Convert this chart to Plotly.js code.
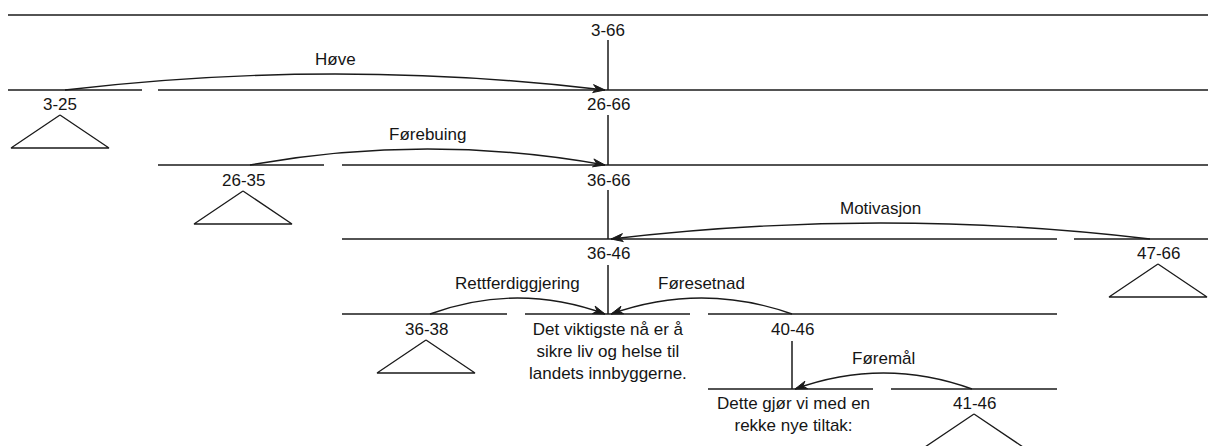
<!DOCTYPE html>
<html>
<head>
<meta charset="utf-8">
<script src="https://cdn.plot.ly/plotly-3.0.1.min.js"></script>
<style>html,body{margin:0;padding:0;background:#fff;}#chart{width:1208px;height:446px;}</style>
</head>
<body>
<div id="chart"></div>
<script>
// ---- content ----
const spanLabels = ['3-66', '26-66', '36-66', '36-46', '3-25', '26-35', '47-66', '36-38', '40-46', '41-46'];
const leafSpans = ['3-25', '26-35', '47-66', '36-38', '41-46'];
const relationNames = ['Høve', 'Førebuing', 'Motivasjon', 'Rettferdiggjering', 'Føresetnad', 'Føremål'];
const eduTexts = [
  'Det viktigste nå er å<br>sikre liv og helse til<br>landets innbyggerne.',
  'Dette gjør vi med en<br>rekke nye tiltak:'
];

// ---- layout of the diagram (pixel grid) ----
const spanX = [608, 608, 608, 608, 60, 243, 1158, 426, 792, 974];
const spanY = [30, 104, 180, 253, 104, 180, 253, 329, 329, 403];
const eduX = [608, 793];
const eduY = [351, 414];

const segY  = [15, 90, 90, 165, 165, 239, 239, 314, 314, 314, 389, 389];
const segX0 = [8, 8, 158, 158, 342, 342, 1074, 342, 525, 708, 708, 891];
const segX1 = [1208, 142, 1208, 324, 1208, 1057, 1208, 507, 690, 1057, 873, 1057];

const vertX  = [608, 608, 608, 608, 792];
const vertY0 = [40, 115, 190, 265, 341];
const vertY1 = [90, 165, 239, 314, 389];

const relFromX = [65, 250, 1150, 430, 792, 972];
const relToX   = [605, 605, 611, 605, 611, 795];
const relLineY = [90, 165, 239, 314, 314, 389];

const triH = 33, triHalf = 49, triGap = 11, arcRise = 32;
const ink = '#1a1a1a';
const font = {family: 'Liberation Sans, Arial, sans-serif', size: 17, color: '#151515'};

// horizontal span lines
const hx = [], hy = [];
segY.forEach((y, i) => { hx.push(segX0[i], segX1[i], null); hy.push(y, y, null); });
// vertical nucleus lines
const vx = [], vy = [];
vertX.forEach((x, i) => { vx.push(x, x, null); vy.push(vertY0[i], vertY1[i], null); });
// triangles under leaf spans
const tx = [], ty = [];
leafSpans.forEach(lbl => {
  const k = spanLabels.indexOf(lbl);
  const ax = spanX[k], ay = spanY[k] + triGap;
  tx.push(ax, ax - triHalf, ax + triHalf, ax, null);
  ty.push(ay, ay + triH, ay + triH, ay, null);
});

const lineStyle = {color: ink, width: 1.5};
const data = [
  {x: hx, y: hy, mode: 'lines', line: lineStyle, hoverinfo: 'skip'},
  {x: vx, y: vy, mode: 'lines', line: lineStyle, hoverinfo: 'skip'},
  {x: tx, y: ty, mode: 'lines', line: {color: ink, width: 1.3}, hoverinfo: 'skip'}
];

const shapes = [];
relationNames.forEach((r, i) => {
  const x0 = relFromX[i], x1 = relToX[i], y = relLineY[i];
  const mx = (x0 + x1) / 2, cy = y - arcRise;
  shapes.push({type: 'path', xref: 'x', yref: 'y',
    path: `M ${x0},${y} Q ${mx},${cy} ${x1},${y}`,
    line: {color: ink, width: 1.4}});
  // arrowhead at nucleus end, along the tangent (control -> end)
  let dx = x1 - mx, dy = y - cy;
  const len = Math.hypot(dx, dy); dx /= len; dy /= len;
  const L = 12, W = 4;
  const bx = x1 - L * dx, by = y - L * dy;
  const nx = x1 - 0.7 * L * dx, ny = y - 0.7 * L * dy;
  const px = -dy, py = dx;
  shapes.push({type: 'path', xref: 'x', yref: 'y',
    path: `M ${x1},${y} L ${bx + W * px},${by + W * py} L ${nx},${ny} L ${bx - W * px},${by - W * py} Z`,
    fillcolor: ink, line: {color: ink, width: 1}});
});

const annotations = [];
spanLabels.forEach((s, i) => annotations.push({x: spanX[i], y: spanY[i], text: s, showarrow: false,
  xanchor: 'center', yanchor: 'middle', font: font}));
relationNames.forEach((r, i) => annotations.push({x: (relFromX[i] + relToX[i]) / 2, y: relLineY[i] - 31,
  text: r, showarrow: false, xanchor: 'center', yanchor: 'middle', font: font}));
eduTexts.forEach((t, i) => annotations.push({x: eduX[i], y: eduY[i], text: t, showarrow: false,
  xanchor: 'center', yanchor: 'middle', align: 'center', font: font}));

const layout = {
  width: 1208, height: 446,
  margin: {l: 0, r: 0, t: 0, b: 0, pad: 0},
  paper_bgcolor: '#fff', plot_bgcolor: '#fff',
  showlegend: false,
  xaxis: {range: [0, 1208], visible: false, fixedrange: true},
  yaxis: {range: [446, 0], visible: false, fixedrange: true},
  shapes: shapes,
  annotations: annotations
};

Plotly.newPlot('chart', data, layout, {staticPlot: true, displayModeBar: false});
</script>
</body>
</html>
